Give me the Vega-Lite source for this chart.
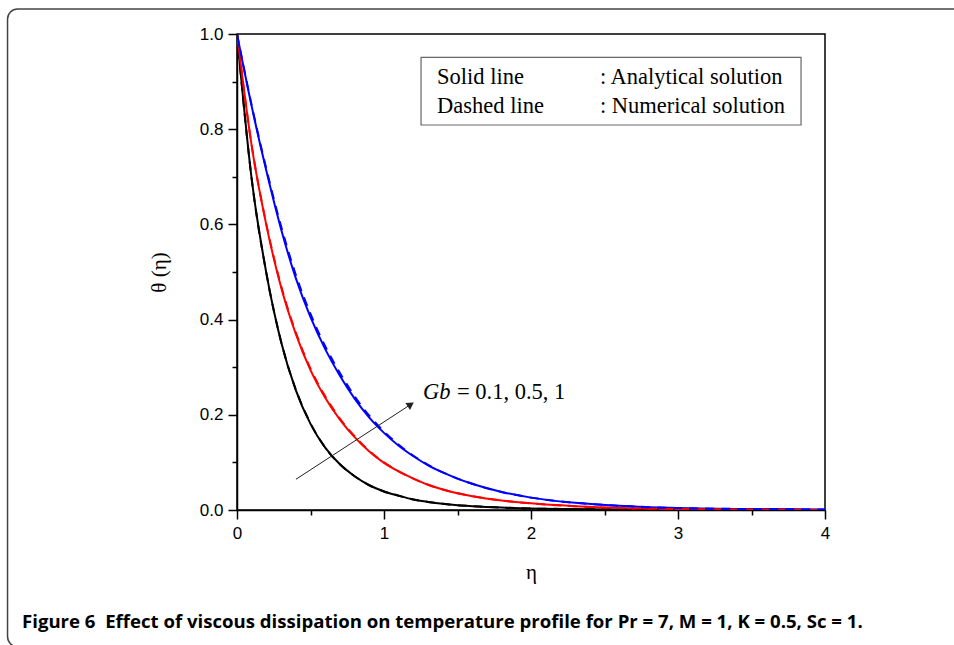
{
"$schema": "https://vega.github.io/schema/vega-lite/v6.json",
"width": 588, "height": 476,
"autosize": {"type": "none"},
"padding": {"left": 237, "top": 34, "right": 129, "bottom": 135},
"background": "white",
"config": {"view": {"stroke": "#000", "strokeWidth": 1.5},
 "axis": {"grid": false, "domainColor": "#000", "domainWidth": 1.5, "tickColor": "#000", "tickWidth": 1.5, "labelFlush": false,
  "labelFont": "Liberation Sans", "labelFontSize": 17, "labelColor": "#000",
  "titleFont": "Liberation Serif", "titleFontSize": 21, "titleFontWeight": "normal", "titleColor": "#000"},
 "axisX": {"labelPadding": 6, "titlePadding": 20},
 "axisY": {"labelPadding": 5, "titlePadding": 30}},
"title": {"text": "Figure 6\u00a0 Effect of viscous dissipation on temperature profile for Pr = 7, M = 1, K = 0.5, Sc = 1.", "orient": "bottom", "anchor": "start", "frame": "group", "dx": -215, "offset": -34, "font": "Open Sans", "fontSize": 18.6, "fontWeight": "bold", "color": "#000"},
"datasets": {"curves": [
{"eta":0,"theta":1.000,"Gb":"0.1","method":"A"},{"eta":0.1,"theta":0.695,"Gb":"0.1","method":"A"},{"eta":0.2,"theta":0.497,"Gb":"0.1","method":"A"},{"eta":0.3,"theta":0.353,"Gb":"0.1","method":"A"},{"eta":0.4,"theta":0.252,"Gb":"0.1","method":"A"},{"eta":0.5,"theta":0.181,"Gb":"0.1","method":"A"},{"eta":0.6,"theta":0.131,"Gb":"0.1","method":"A"},{"eta":0.7,"theta":0.096,"Gb":"0.1","method":"A"},{"eta":0.8,"theta":0.071,"Gb":"0.1","method":"A"},{"eta":0.9,"theta":0.052,"Gb":"0.1","method":"A"},{"eta":1.0,"theta":0.039,"Gb":"0.1","method":"A"},{"eta":1.1,"theta":0.030,"Gb":"0.1","method":"A"},{"eta":1.2,"theta":0.022,"Gb":"0.1","method":"A"},{"eta":1.3,"theta":0.017,"Gb":"0.1","method":"A"},{"eta":1.4,"theta":0.013,"Gb":"0.1","method":"A"},{"eta":1.5,"theta":0.010,"Gb":"0.1","method":"A"},{"eta":1.6,"theta":0.008,"Gb":"0.1","method":"A"},{"eta":1.8,"theta":0.005,"Gb":"0.1","method":"A"},{"eta":2.0,"theta":0.003,"Gb":"0.1","method":"A"},{"eta":2.3,"theta":0.002,"Gb":"0.1","method":"A"},{"eta":2.6,"theta":0.001,"Gb":"0.1","method":"A"},{"eta":3.0,"theta":0.000,"Gb":"0.1","method":"A"},{"eta":3.5,"theta":0.000,"Gb":"0.1","method":"A"},{"eta":4.0,"theta":0.000,"Gb":"0.1","method":"A"},
{"eta":0,"theta":1.000,"Gb":"0.5","method":"A"},{"eta":0.1,"theta":0.765,"Gb":"0.5","method":"A"},{"eta":0.2,"theta":0.598,"Gb":"0.5","method":"A"},{"eta":0.3,"theta":0.468,"Gb":"0.5","method":"A"},{"eta":0.4,"theta":0.370,"Gb":"0.5","method":"A"},{"eta":0.5,"theta":0.294,"Gb":"0.5","method":"A"},{"eta":0.6,"theta":0.236,"Gb":"0.5","method":"A"},{"eta":0.7,"theta":0.190,"Gb":"0.5","method":"A"},{"eta":0.8,"theta":0.153,"Gb":"0.5","method":"A"},{"eta":0.9,"theta":0.123,"Gb":"0.5","method":"A"},{"eta":1.0,"theta":0.099,"Gb":"0.5","method":"A"},{"eta":1.1,"theta":0.081,"Gb":"0.5","method":"A"},{"eta":1.2,"theta":0.066,"Gb":"0.5","method":"A"},{"eta":1.3,"theta":0.053,"Gb":"0.5","method":"A"},{"eta":1.4,"theta":0.043,"Gb":"0.5","method":"A"},{"eta":1.5,"theta":0.035,"Gb":"0.5","method":"A"},{"eta":1.6,"theta":0.029,"Gb":"0.5","method":"A"},{"eta":1.8,"theta":0.020,"Gb":"0.5","method":"A"},{"eta":2.0,"theta":0.014,"Gb":"0.5","method":"A"},{"eta":2.3,"theta":0.008,"Gb":"0.5","method":"A"},{"eta":2.6,"theta":0.004,"Gb":"0.5","method":"A"},{"eta":3.0,"theta":0.002,"Gb":"0.5","method":"A"},{"eta":3.5,"theta":0.001,"Gb":"0.5","method":"A"},{"eta":4.0,"theta":0.000,"Gb":"0.5","method":"A"},
{"eta":0,"theta":1.000,"Gb":"1","method":"A"},{"eta":0.1,"theta":0.848,"Gb":"1","method":"A"},{"eta":0.2,"theta":0.712,"Gb":"1","method":"A"},{"eta":0.3,"theta":0.590,"Gb":"1","method":"A"},{"eta":0.4,"theta":0.487,"Gb":"1","method":"A"},{"eta":0.5,"theta":0.405,"Gb":"1","method":"A"},{"eta":0.6,"theta":0.338,"Gb":"1","method":"A"},{"eta":0.7,"theta":0.282,"Gb":"1","method":"A"},{"eta":0.8,"theta":0.234,"Gb":"1","method":"A"},{"eta":0.9,"theta":0.194,"Gb":"1","method":"A"},{"eta":1.0,"theta":0.162,"Gb":"1","method":"A"},{"eta":1.1,"theta":0.135,"Gb":"1","method":"A"},{"eta":1.2,"theta":0.113,"Gb":"1","method":"A"},{"eta":1.3,"theta":0.094,"Gb":"1","method":"A"},{"eta":1.4,"theta":0.079,"Gb":"1","method":"A"},{"eta":1.5,"theta":0.066,"Gb":"1","method":"A"},{"eta":1.6,"theta":0.055,"Gb":"1","method":"A"},{"eta":1.8,"theta":0.038,"Gb":"1","method":"A"},{"eta":2.0,"theta":0.026,"Gb":"1","method":"A"},{"eta":2.3,"theta":0.015,"Gb":"1","method":"A"},{"eta":2.6,"theta":0.009,"Gb":"1","method":"A"},{"eta":3.0,"theta":0.004,"Gb":"1","method":"A"},{"eta":3.5,"theta":0.002,"Gb":"1","method":"A"},{"eta":4.0,"theta":0.001,"Gb":"1","method":"A"},
{"eta":0,"theta":1.000,"Gb":"0.1","method":"N"},{"eta":0.1,"theta":0.695,"Gb":"0.1","method":"N"},{"eta":0.2,"theta":0.497,"Gb":"0.1","method":"N"},{"eta":0.3,"theta":0.354,"Gb":"0.1","method":"N"},{"eta":0.4,"theta":0.253,"Gb":"0.1","method":"N"},{"eta":0.5,"theta":0.182,"Gb":"0.1","method":"N"},{"eta":0.6,"theta":0.131,"Gb":"0.1","method":"N"},{"eta":0.7,"theta":0.096,"Gb":"0.1","method":"N"},{"eta":0.8,"theta":0.071,"Gb":"0.1","method":"N"},{"eta":0.9,"theta":0.052,"Gb":"0.1","method":"N"},{"eta":1.0,"theta":0.039,"Gb":"0.1","method":"N"},{"eta":1.1,"theta":0.030,"Gb":"0.1","method":"N"},{"eta":1.2,"theta":0.022,"Gb":"0.1","method":"N"},{"eta":1.3,"theta":0.017,"Gb":"0.1","method":"N"},{"eta":1.4,"theta":0.013,"Gb":"0.1","method":"N"},{"eta":1.5,"theta":0.010,"Gb":"0.1","method":"N"},{"eta":1.6,"theta":0.008,"Gb":"0.1","method":"N"},{"eta":1.8,"theta":0.005,"Gb":"0.1","method":"N"},{"eta":2.0,"theta":0.003,"Gb":"0.1","method":"N"},{"eta":2.3,"theta":0.002,"Gb":"0.1","method":"N"},{"eta":2.6,"theta":0.001,"Gb":"0.1","method":"N"},{"eta":3.0,"theta":0.000,"Gb":"0.1","method":"N"},{"eta":3.5,"theta":0.000,"Gb":"0.1","method":"N"},{"eta":4.0,"theta":0.000,"Gb":"0.1","method":"N"},
{"eta":0,"theta":1.000,"Gb":"0.5","method":"N"},{"eta":0.1,"theta":0.766,"Gb":"0.5","method":"N"},{"eta":0.2,"theta":0.600,"Gb":"0.5","method":"N"},{"eta":0.3,"theta":0.471,"Gb":"0.5","method":"N"},{"eta":0.4,"theta":0.373,"Gb":"0.5","method":"N"},{"eta":0.5,"theta":0.297,"Gb":"0.5","method":"N"},{"eta":0.6,"theta":0.239,"Gb":"0.5","method":"N"},{"eta":0.7,"theta":0.192,"Gb":"0.5","method":"N"},{"eta":0.8,"theta":0.155,"Gb":"0.5","method":"N"},{"eta":0.9,"theta":0.124,"Gb":"0.5","method":"N"},{"eta":1.0,"theta":0.100,"Gb":"0.5","method":"N"},{"eta":1.1,"theta":0.081,"Gb":"0.5","method":"N"},{"eta":1.2,"theta":0.066,"Gb":"0.5","method":"N"},{"eta":1.3,"theta":0.053,"Gb":"0.5","method":"N"},{"eta":1.4,"theta":0.043,"Gb":"0.5","method":"N"},{"eta":1.5,"theta":0.035,"Gb":"0.5","method":"N"},{"eta":1.6,"theta":0.029,"Gb":"0.5","method":"N"},{"eta":1.8,"theta":0.020,"Gb":"0.5","method":"N"},{"eta":2.0,"theta":0.014,"Gb":"0.5","method":"N"},{"eta":2.3,"theta":0.008,"Gb":"0.5","method":"N"},{"eta":2.6,"theta":0.004,"Gb":"0.5","method":"N"},{"eta":3.0,"theta":0.002,"Gb":"0.5","method":"N"},{"eta":3.5,"theta":0.001,"Gb":"0.5","method":"N"},{"eta":4.0,"theta":0.000,"Gb":"0.5","method":"N"},
{"eta":0,"theta":1.000,"Gb":"1","method":"N"},{"eta":0.1,"theta":0.850,"Gb":"1","method":"N"},{"eta":0.2,"theta":0.716,"Gb":"1","method":"N"},{"eta":0.3,"theta":0.596,"Gb":"1","method":"N"},{"eta":0.4,"theta":0.494,"Gb":"1","method":"N"},{"eta":0.5,"theta":0.412,"Gb":"1","method":"N"},{"eta":0.6,"theta":0.344,"Gb":"1","method":"N"},{"eta":0.7,"theta":0.288,"Gb":"1","method":"N"},{"eta":0.8,"theta":0.239,"Gb":"1","method":"N"},{"eta":0.9,"theta":0.198,"Gb":"1","method":"N"},{"eta":1.0,"theta":0.165,"Gb":"1","method":"N"},{"eta":1.1,"theta":0.137,"Gb":"1","method":"N"},{"eta":1.2,"theta":0.114,"Gb":"1","method":"N"},{"eta":1.3,"theta":0.095,"Gb":"1","method":"N"},{"eta":1.4,"theta":0.079,"Gb":"1","method":"N"},{"eta":1.5,"theta":0.066,"Gb":"1","method":"N"},{"eta":1.6,"theta":0.055,"Gb":"1","method":"N"},{"eta":1.8,"theta":0.038,"Gb":"1","method":"N"},{"eta":2.0,"theta":0.026,"Gb":"1","method":"N"},{"eta":2.3,"theta":0.015,"Gb":"1","method":"N"},{"eta":2.6,"theta":0.009,"Gb":"1","method":"N"},{"eta":3.0,"theta":0.004,"Gb":"1","method":"N"},{"eta":3.5,"theta":0.002,"Gb":"1","method":"N"},{"eta":4.0,"theta":0.001,"Gb":"1","method":"N"}
]},
"layer": [
{"data": {"values": [{}]},
 "mark": {"type": "rect", "fill": "transparent", "stroke": "#444", "strokeWidth": 1.5, "cornerRadius": 10},
 "encoding": {"x": {"datum": -1.561}, "x2": {"datum": 5.0}, "y": {"datum": 1.0525}, "y2": {"datum": -0.287}}},
{"data": {"name": "curves"},
 "transform": [{"filter": "datum.method == 'A'"}],
 "mark": {"type": "line", "strokeWidth": 2, "interpolate": "monotone", "clip": true},
 "encoding": {
  "x": {"field": "eta", "type": "quantitative", "title": "η", "scale": {"domain": [0, 4], "nice": false, "zero": false},
   "axis": {"title": "η", "values": [0, 0.5, 1, 1.5, 2, 2.5, 3, 3.5, 4], "labelExpr": "datum.value % 1 == 0 ? format(datum.value, 'd') : ''",
    "tickSize": {"condition": {"test": "datum.value % 1 == 0", "value": 9}, "value": 5}}},
  "y": {"field": "theta", "type": "quantitative", "title": "θ (η)", "scale": {"domain": [0, 1], "nice": false, "zero": false},
   "axis": {"title": "θ (η)", "values": [0, 0.1, 0.2, 0.3, 0.4, 0.5, 0.6, 0.7, 0.8, 0.9, 1.0], "labelExpr": "round(datum.value * 10) % 2 == 0 ? format(datum.value, '.1f') : ''",
    "tickSize": {"condition": {"test": "round(datum.value * 10) % 2 == 0", "value": 9}, "value": 5}}},
  "color": {"field": "Gb", "type": "nominal", "scale": {"domain": ["0.1", "0.5", "1"], "range": ["#000000", "#ff0000", "#0000ff"]}, "legend": null}}},
{"data": {"name": "curves"},
 "transform": [{"filter": "datum.method == 'N'"}],
 "mark": {"type": "line", "strokeWidth": 2, "interpolate": "monotone", "strokeDash": [9, 7], "clip": true},
 "encoding": {
  "x": {"field": "eta", "type": "quantitative", "title": "η"},
  "y": {"field": "theta", "type": "quantitative", "title": "θ (η)"},
  "color": {"field": "Gb", "type": "nominal", "legend": null}}},
{"data": {"values": [{}]},
 "mark": {"type": "rect", "fill": "white", "stroke": "#666", "strokeWidth": 1.2},
 "encoding": {"x": {"datum": 1.252}, "x2": {"datum": 3.837}, "y": {"datum": 0.951}, "y2": {"datum": 0.8088}}},
{"data": {"values": [{}]},
 "mark": {"type": "text", "text": "Solid line", "align": "left", "baseline": "middle", "font": "Liberation Serif", "fontSize": 22.5, "color": "#000"},
 "encoding": {"x": {"datum": 1.361}, "y": {"datum": 0.9097}}},
{"data": {"values": [{}]},
 "mark": {"type": "text", "text": "Dashed line", "align": "left", "baseline": "middle", "font": "Liberation Serif", "fontSize": 22.5, "color": "#000"},
 "encoding": {"x": {"datum": 1.361}, "y": {"datum": 0.8487}}},
{"data": {"values": [{}]},
 "mark": {"type": "text", "text": ": Analytical solution", "align": "left", "baseline": "middle", "font": "Liberation Serif", "fontSize": 22.5, "color": "#000"},
 "encoding": {"x": {"datum": 2.469}, "y": {"datum": 0.9097}}},
{"data": {"values": [{}]},
 "mark": {"type": "text", "text": ": Numerical solution", "align": "left", "baseline": "middle", "font": "Liberation Serif", "fontSize": 22.5, "color": "#000"},
 "encoding": {"x": {"datum": 2.469}, "y": {"datum": 0.8487}}},
{"data": {"values": [{}]},
 "mark": {"type": "text", "text": "Gb", "align": "left", "baseline": "middle", "font": "Liberation Serif", "fontSize": 22.5, "fontStyle": "italic", "color": "#000"},
 "encoding": {"x": {"datum": 1.265}, "y": {"datum": 0.2479}}},
{"data": {"values": [{}]},
 "mark": {"type": "text", "text": "= 0.1, 0.5, 1", "align": "left", "baseline": "middle", "font": "Liberation Serif", "fontSize": 22.5, "color": "#000"},
 "encoding": {"x": {"datum": 1.497}, "y": {"datum": 0.2479}}},
{"data": {"values": [{}]},
 "mark": {"type": "rule", "color": "#222", "strokeWidth": 1},
 "encoding": {"x": {"datum": 0.401}, "y": {"datum": 0.0645}, "x2": {"datum": 1.182}, "y2": {"datum": 0.2218}}},
{"data": {"values": [{}]},
 "mark": {"type": "point", "shape": "triangle-right", "filled": true, "color": "#222", "size": 70, "angle": 327, "opacity": 1},
 "encoding": {"x": {"datum": 1.182}, "y": {"datum": 0.2218}}}
]
}
